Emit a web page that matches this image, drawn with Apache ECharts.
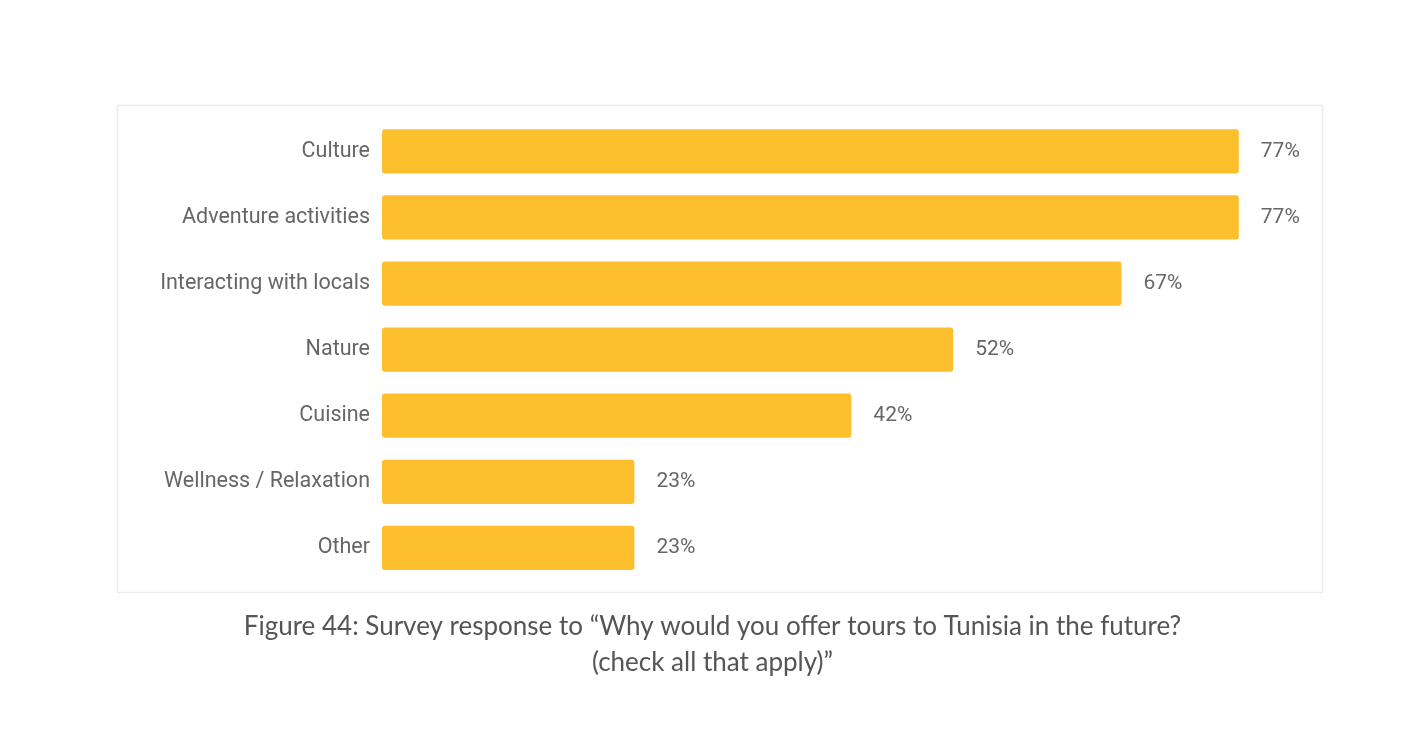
<!DOCTYPE html>
<html>
<head>
<meta charset="utf-8">
<script src="https://cdn.jsdelivr.net/npm/echarts@6/dist/echarts.min.js"></script>
<style>
html,body{margin:0;padding:0;background:#fff;}
#chart{width:1425px;height:751px;}
</style>
</head>
<body>
<div id="chart"></div>
<script>
// categories top to bottom
var reasons = ["Culture", "Adventure activities", "Interacting with locals", "Nature", "Cuisine", "Wellness / Relaxation", "Other"];
// bar lengths (%)
var shares = [77.4, 77.4, 66.8, 51.6, 42.4, 22.8, 22.8];
// printed labels
var shareLabels = ["77%", "77%", "67%", "52%", "42%", "23%", "23%"];

var chart = echarts.init(document.getElementById("chart"));

var option = {
	backgroundColor: "#fff",
	animation: false,
	graphic: [
		{
			type: "rect",
			shape: { x: 117.5, y: 105.5, width: 1205, height: 487 },
			style: { fill: "none", stroke: "#ececec", lineWidth: 1.5 }
		},
		{
			type: "text",
			x: 712.5,
			y: 609,
			style: {
				text: "Figure 44: Survey response to \u201cWhy would you offer tours to Tunisia in the future?\n(check all that apply)\u201d",
				align: "center",
				verticalAlign: "top",
				font: "26px Lato, 'Open Sans', sans-serif",
				lineHeight: 36,
				fill: "#555"
			}
		}
	],
	grid: { left: 382, right: 157.4, top: 118.3, bottom: 170.1 },
	xAxis: {
		type: "value",
		min: 0,
		max: 80,
		show: false
	},
	yAxis: {
		type: "category",
		inverse: true,
		data: reasons,
		axisLine: { show: false },
		axisTick: { show: false },
		axisLabel: {
			margin: 12,
			fontFamily: "Roboto",
			fontSize: 21.5,
			color: "#666",
			padding: [4, 0, 0, 0]
		}
	},
	series: [{
		type: "bar",
		data: shares,
		barCategoryGap: "33%",
		itemStyle: { color: "#fdbf2d", borderRadius: 3 },
		label: {
			show: true,
			position: "right",
			distance: 22,
			fontFamily: "Roboto",
			fontSize: 21,
			color: "#666",
			padding: [4, 0, 0, 0],
			formatter: function (p) { return shareLabels[p.dataIndex]; }
		}
	}]
};

chart.setOption(option);
</script>
</body>
</html>
